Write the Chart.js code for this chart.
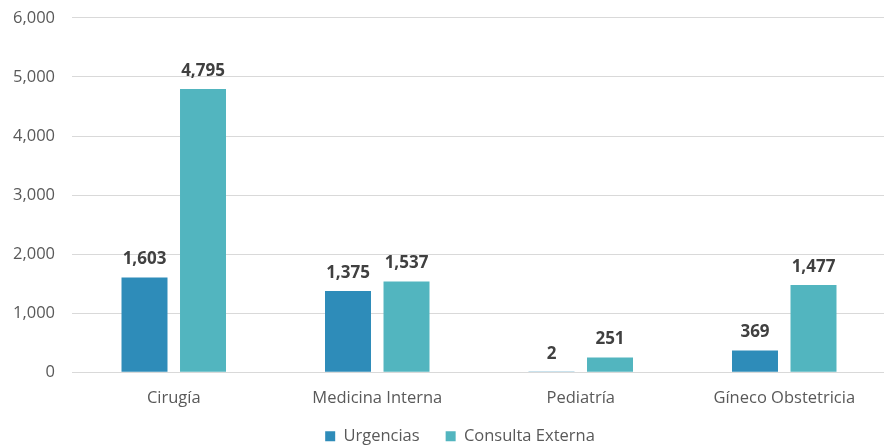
<!DOCTYPE html>
<html>
<head>
<meta charset="utf-8">
<script src="https://cdn.jsdelivr.net/npm/chart.js@4/dist/chart.umd.min.js"></script>
<style>
  html, body { margin: 0; padding: 0; background: #ffffff; overflow: hidden; }
  #wrap { position: relative; width: 886px; height: 457px; margin-top: -9px; }
</style>
</head>
<body>
<div id="wrap"><canvas id="chart"></canvas></div>
<script>
// Atenciones por especialidad
const categories = ['Cirugía', 'Medicina Interna', 'Pediatría', 'Gíneco Obstetricia'];
const urgencias = [1603, 1375, 2, 369];
const consultaExterna = [4795, 1537, 251, 1477];
const yTicks = [0, 1000, 2000, 3000, 4000, 5000, 6000];

const FONT = '"Open Sans", "Noto Sans", sans-serif';
const LEGEND_GAP = 26;     // horizontal space between legend entries
const LEGEND_LIFT = 22;    // draws the legend row closer to the axis labels
const LEGEND_SHIFT = 19;   // legend row sits slightly right of the canvas centre

// Writes each bar's value just above it
const valueLabels = {
  id: 'valueLabels',
  afterDatasetsDraw(chart) {
    const ctx = chart.ctx;
    ctx.save();
    ctx.font = 'bold 17px ' + FONT;
    ctx.fillStyle = '#404040';
    ctx.textAlign = 'center';
    ctx.textBaseline = 'middle';
    chart.data.datasets.forEach((ds, di) => {
      chart.getDatasetMeta(di).data.forEach((bar, i) => {
        ctx.fillText(ds.data[i].toLocaleString('en-US'), bar.x, bar.y - 18);
      });
    });
    ctx.restore();
  }
};

// The legend padding also sets the vertical offset; start the legend box higher
const legendLift = {
  id: 'legendLift',
  afterLayout(chart) {
    const lg = chart.legend;
    if (lg) {
      lg.top -= LEGEND_LIFT;
      lg.height += LEGEND_LIFT;
      lg.left += LEGEND_SHIFT;
      lg.right += LEGEND_SHIFT;
    }
  }
};

new Chart(document.getElementById('chart'), {
  type: 'bar',
  data: {
    labels: categories,
    datasets: [
      { label: 'Urgencias', data: urgencias, backgroundColor: '#2E8CB9' },
      { label: 'Consulta Externa', data: consultaExterna, backgroundColor: '#52B5BF' }
    ]
  },
  options: {
    responsive: true,
    maintainAspectRatio: false,
    animation: false,
    categoryPercentage: 0.575,
    barPercentage: 0.786,
    layout: { padding: { top: -12, left: -4, right: 0, bottom: -10.5 } },
    plugins: {
      legend: {
        position: 'bottom',
        maxHeight: 34.5,
        labels: {
          boxWidth: 10,
          boxHeight: 10,
          padding: LEGEND_GAP,
          color: '#595959',
          font: { family: FONT, size: 16.5 }
        }
      },
      tooltip: { enabled: false }
    },
    scales: {
      x: {
        grid: { display: false, drawTicks: false },
        border: { display: true, color: '#d9d9d9' },
        ticks: { color: '#595959', font: { family: FONT, size: 16.5 }, padding: 16 }
      },
      y: {
        min: 0,
        max: 6000,
        afterBuildTicks(axis) { axis.ticks = yTicks.map(v => ({ value: v })); },
        grid: { color: '#d9d9d9', drawTicks: false },
        border: { display: false },
        ticks: {
          color: '#595959',
          font: { family: FONT, size: 16.5 },
          padding: 17,
          callback: v => v.toLocaleString('en-US')
        }
      }
    }
  },
  plugins: [valueLabels, legendLift]
});
</script>
</body>
</html>
